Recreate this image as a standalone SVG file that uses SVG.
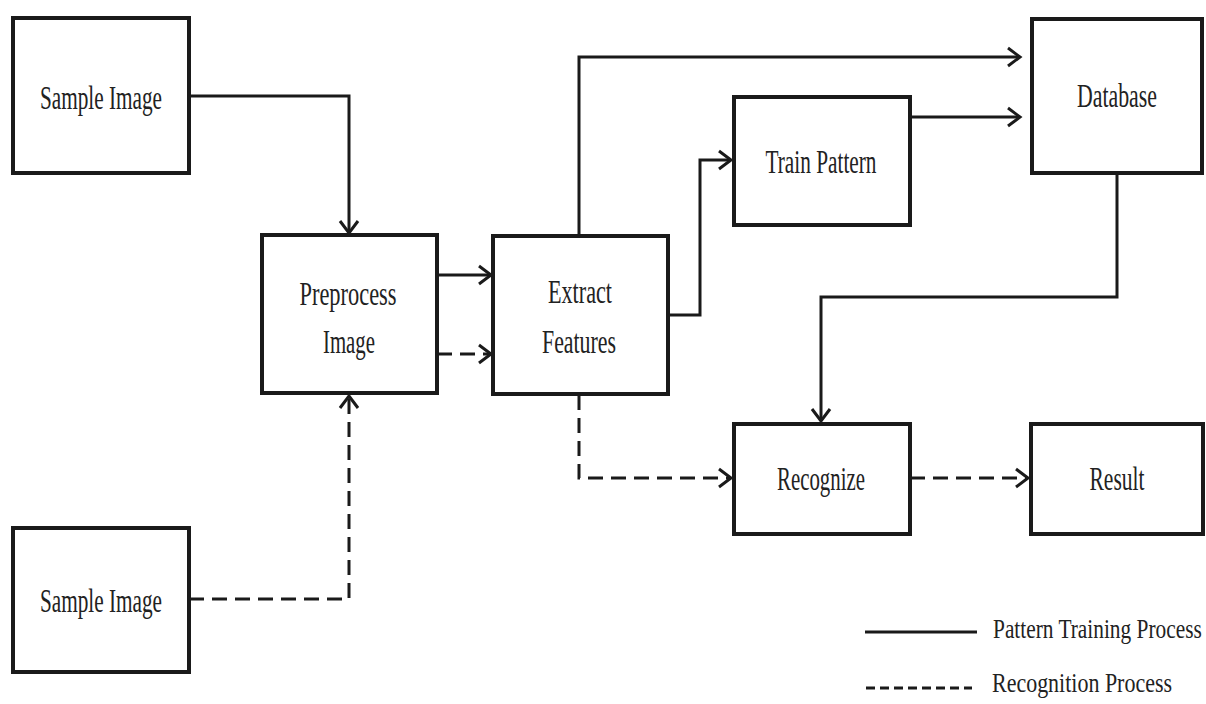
<svg xmlns="http://www.w3.org/2000/svg" width="1206" height="704" viewBox="0 0 1206 704">
<defs>
<style>
.box{fill:#fff;stroke:#1a1a1a;stroke-width:4}
.t{font-family:"Liberation Serif","Times New Roman",serif;font-size:33px;fill:#222;text-anchor:middle}
.lt{font-family:"Liberation Serif","Times New Roman",serif;font-size:27px;fill:#222}
.c{fill:none;stroke:#1a1a1a;stroke-width:3}
.d{stroke-dasharray:15 8}
</style>
<marker id="ah" markerUnits="userSpaceOnUse" markerWidth="18" markerHeight="22" refX="14" refY="11" orient="auto" viewBox="0 0 18 22">
<path d="M2,2 L14,11 L2,20" fill="none" stroke="#1a1a1a" stroke-width="3"/>
</marker>
</defs>
<rect width="1206" height="704" fill="#fff"/>
<g id="connectors">
<path class="c" d="M189,96 H349 V233" marker-end="url(#ah)"/>
<path class="c" d="M437,275 H491" marker-end="url(#ah)"/>
<path class="c d" d="M437,354 H491" marker-end="url(#ah)"/>
<path class="c" d="M579,235 V57 H1020" marker-end="url(#ah)"/>
<path class="c" d="M668,315 H700 V160 H731" marker-end="url(#ah)"/>
<path class="c" d="M910,117 H1020" marker-end="url(#ah)"/>
<path class="c" d="M1117,173 V297 H821 V421" marker-end="url(#ah)"/>
<path class="c d" d="M579,395 V478 H731" marker-end="url(#ah)"/>
<path class="c d" d="M910,478 H1028" marker-end="url(#ah)"/>
<path class="c d" d="M189,599 H349 V396" marker-end="url(#ah)"/>
</g>
<g id="sample1"><rect class="box" x="13" y="18" width="176" height="155"/><text class="t" x="101" y="109" textLength="122" lengthAdjust="spacingAndGlyphs">Sample Image</text></g>
<g id="sample2"><rect class="box" x="13" y="528" width="176" height="144"/><text class="t" x="101" y="612" textLength="122" lengthAdjust="spacingAndGlyphs">Sample Image</text></g>
<g id="preprocess"><rect class="box" x="262" y="235" width="175" height="158"/><text class="t" x="348" y="305" textLength="97" lengthAdjust="spacingAndGlyphs">Preprocess</text><text class="t" x="349" y="353" textLength="52" lengthAdjust="spacingAndGlyphs">Image</text></g>
<g id="extract"><rect class="box" x="493" y="236" width="175" height="158"/><text class="t" x="580" y="303" textLength="64" lengthAdjust="spacingAndGlyphs">Extract</text><text class="t" x="579" y="353" textLength="74" lengthAdjust="spacingAndGlyphs">Features</text></g>
<g id="train"><rect class="box" x="734" y="97" width="176" height="128"/><text class="t" x="821" y="173" textLength="111" lengthAdjust="spacingAndGlyphs">Train Pattern</text></g>
<g id="database"><rect class="box" x="1032" y="19" width="170" height="154"/><text class="t" x="1117" y="107" textLength="80" lengthAdjust="spacingAndGlyphs">Database</text></g>
<g id="recognize"><rect class="box" x="734" y="424" width="176" height="110"/><text class="t" x="821" y="490" textLength="88" lengthAdjust="spacingAndGlyphs">Recognize</text></g>
<g id="result"><rect class="box" x="1031" y="424" width="172" height="110"/><text class="t" x="1117" y="490" textLength="55" lengthAdjust="spacingAndGlyphs">Result</text></g>
<g id="legend">
<line class="c" x1="865" y1="632" x2="977" y2="632"/>
<text class="lt" transform="translate(993,638) scale(0.8,1)" x="0" y="0" textLength="261" lengthAdjust="spacingAndGlyphs">Pattern Training Process</text>
<line x1="866" y1="688" x2="972" y2="688" stroke="#1a1a1a" stroke-width="3" stroke-dasharray="9 5"/>
<text class="lt" transform="translate(992,692) scale(0.8,1)" x="0" y="0" textLength="225" lengthAdjust="spacingAndGlyphs">Recognition Process</text>
</g>
</svg>
